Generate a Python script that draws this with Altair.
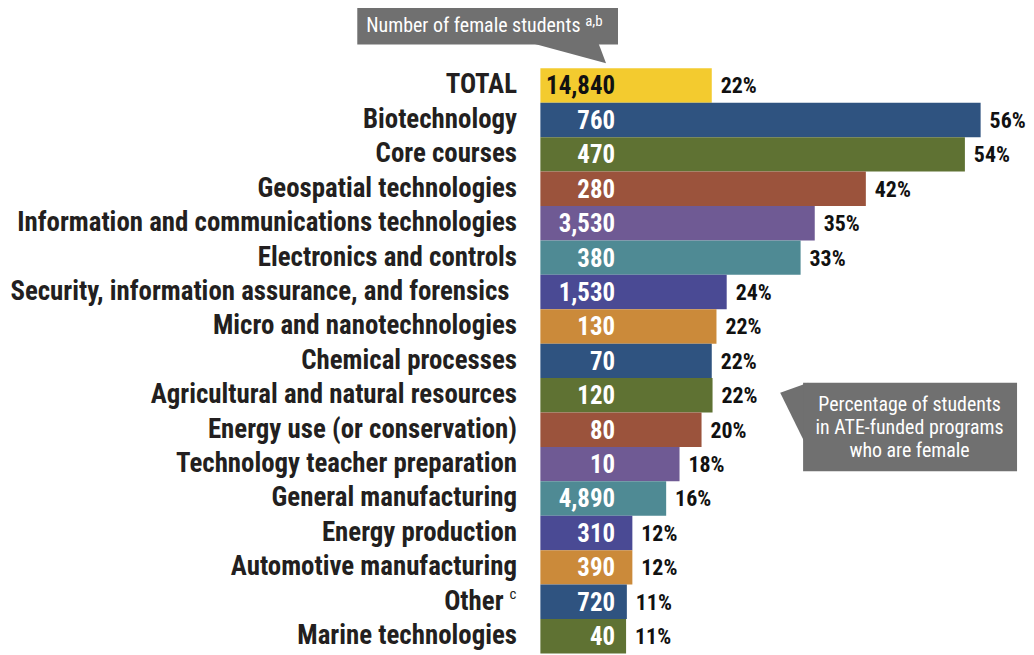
import altair as alt
import pandas as pd

categories = ["TOTAL", "Biotechnology", "Core courses", "Geospatial technologies",
              "Information and communications technologies", "Electronics and controls",
              "Security, information assurance, and forensics", "Micro and nanotechnologies",
              "Chemical processes", "Agricultural and natural resources",
              "Energy use (or conservation)", "Technology teacher preparation",
              "General manufacturing", "Energy production", "Automotive manufacturing",
              "Other", "Marine technologies"]
female_students = [14840, 760, 470, 280, 3530, 380, 1530, 130, 70, 120, 80, 10, 4890, 310, 390, 720, 40]
pct_female_label = [22, 56, 54, 42, 35, 33, 24, 22, 22, 22, 20, 18, 16, 12, 12, 11, 11]
pct_female_bar = [21.8, 56.0, 54.0, 41.4, 34.9, 33.1, 23.7, 22.4, 21.8, 21.9, 20.5, 17.7, 16.0, 11.7, 11.7, 11.0, 10.9]
bar_colors = ["#F3CB2F", "#2F5380", "#5F7233", "#9B533C", "#6F5A94", "#4F8A94", "#4A4A94", "#CB8A3A",
              "#2F5380", "#5F7233", "#9B533C", "#6F5A94", "#4F8A94", "#4A4A94", "#CB8A3A",
              "#2F5380", "#5F7233"]
number_colors = ["#111111"] + ["#FFFFFF"] * 16
right_lines = ["Percentage of students", "in ATE-funded programs", "who are female"]

df = pd.DataFrame({
    "category": categories,
    "female": female_students,
    "pct": pct_female_bar,
    "pct_text": [f"{p}%" for p in pct_female_label],
    "color": bar_colors,
    "numcolor": number_colors,
})

FONT = "Roboto Condensed, Liberation Sans Narrow, Roboto, sans-serif"
GRAY = "#707070"
LABEL_COLOR = "#231F20"

# "Other" (with superscript) and "Security..." (with trailing gap) are drawn as text marks
label_expr = ("datum.value == 'Other' || datum.value == "
              "'Security, information assurance, and forensics' ? '' : datum.value")

y_enc = alt.Y("category:N", sort=categories,
              scale=alt.Scale(paddingInner=0, paddingOuter=0),
              axis=alt.Axis(title=None, ticks=False, domain=False, grid=False, labelPadding=24,
                            labelFont=FONT, labelFontSize=27, labelFontWeight="bold",
                            labelColor=LABEL_COLOR, labelLimit=0, labelExpr=label_expr))
y_plain = alt.Y("category:N", sort=categories)
x_scale = alt.Scale(domain=[0, 60])

base = alt.Chart(df)

bars = base.mark_bar(cornerRadius=0).encode(
    y=y_enc,
    x=alt.X("pct:Q", scale=x_scale, axis=None),
    color=alt.Color("color:N", scale=None, legend=None),
)

numbers = base.mark_text(align="right", baseline="middle", font=FONT, fontSize=25,
                         fontWeight="bold", dy=1).encode(
    y=y_plain,
    x=alt.value(75),
    text=alt.Text("female:Q", format=","),
    color=alt.Color("numcolor:N", scale=None, legend=None),
)

pcts = base.mark_text(align="left", baseline="middle", font=FONT, fontSize=22,
                      fontWeight="bold", dx=9, dy=1, color="#111111").encode(
    y=y_plain,
    x=alt.X("pct:Q", scale=x_scale),
    text="pct_text:N",
)

special = pd.DataFrame({
    "category": ["Other", "Security, information assurance, and forensics"],
    "txt": ["Other", "Security, information assurance, and forensics"],
    "xpos": [-37, -31],
})
special_labels = alt.Chart(special).mark_text(
    align="right", baseline="middle", font=FONT, fontSize=27, fontWeight="bold",
    color=LABEL_COLOR).encode(
    y=y_plain,
    x=alt.X("xpos:Q", scale=None),
    text="txt:N",
)

sup_df = pd.DataFrame({"category": ["Other"], "sup": ["c"]})
sup_other = alt.Chart(sup_df).mark_text(align="right", baseline="middle", font=FONT,
                                        fontSize=15, color=LABEL_COLOR, dy=-8).encode(
    y=y_plain,
    x=alt.value(-24),
    text="sup:N",
)

ann = pd.DataFrame({"k": [0]})

# Callout: number of female students
top_box = alt.Chart(ann).mark_rect(color=GRAY).encode(
    x=alt.value(-184), x2=alt.value(78), y=alt.value(-62), y2=alt.value(-24))
top_ptr = alt.Chart(ann).mark_point(
    shape="M -1 -0.3 L 0.795 -0.3 L 1 0.2436 Z", filled=True, opacity=1,
    color=GRAY, size=6084).encode(x=alt.value(27), y=alt.value(-14.5))
top_text = alt.Chart(ann).mark_text(
    align="left", baseline="middle", font=FONT, fontSize=20, color="white",
    text="Number of female students").encode(x=alt.value(-175), y=alt.value(-42))
top_sup = alt.Chart(ann).mark_text(
    align="left", baseline="middle", font=FONT, fontSize=15, color="white",
    text="a,b").encode(x=alt.value(45), y=alt.value(-48))

# Callout: percentage female
right_box = alt.Chart(ann).mark_rect(color=GRAY).encode(
    x=alt.value(264), x2=alt.value(479), y=alt.value(316), y2=alt.value(405))
right_ptr = alt.Chart(ann).mark_point(
    shape="M -0.388 -0.701 L 0.45 -1 L 0.45 1 Z", filled=True, opacity=1,
    color=GRAY, size=4489).encode(x=alt.value(254), y=alt.value(349.5))
right_texts = [
    alt.Chart(ann).mark_text(align="center", baseline="middle", font=FONT, fontSize=20,
                             color="white", text=line).encode(
        x=alt.value(371), y=alt.value(yy))
    for line, yy in zip(right_lines, [338, 361.5, 385])
]

chart = alt.layer(
    bars, numbers, pcts, special_labels, sup_other,
    top_box, top_ptr, top_text, top_sup,
    right_ptr, right_box, *right_texts,
).properties(
    width=474, height=588,
    autosize=alt.AutoSizeParams(type="none"),
    padding={"left": 535, "top": 59, "right": 14, "bottom": 0},
).configure(background="white").configure_view(stroke=None)

chart.save("out.html", embed_options={"renderer": "svg", "actions": False})
